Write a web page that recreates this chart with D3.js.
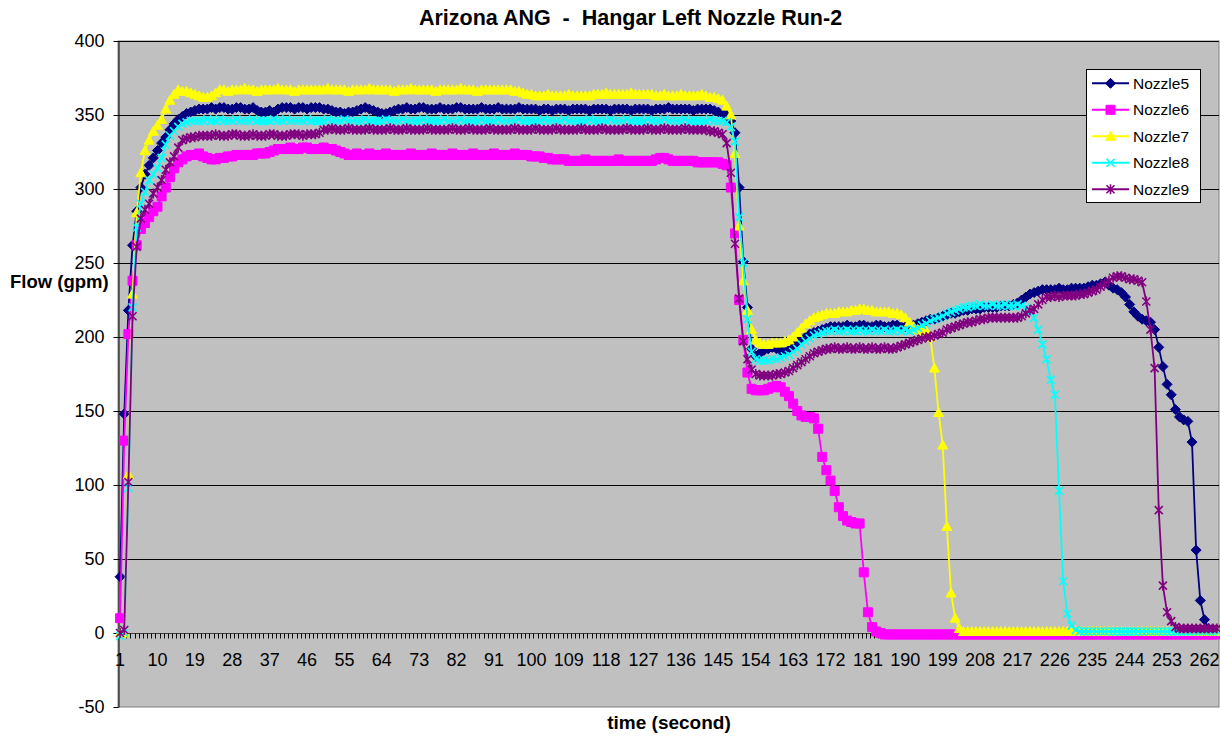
<!DOCTYPE html>
<html>
<head>
<meta charset="utf-8">
<script src="https://cdn.jsdelivr.net/npm/d3@7"></script>
<style>
  body { margin: 0; background: #fff; }
  svg { display: block; }
  text { font-family: Arial, "Liberation Sans", sans-serif; fill: #000; }
</style>
</head>
<body>
<svg id="chart" width="1220" height="736"></svg>
<script>
// Time axis: one category per second of the run
const categories = d3.range(1, 266);
const tickLabels = categories.filter(c => (c - 1) % 9 === 0);
const yTicks = [-50, 0, 50, 100, 150, 200, 250, 300, 350, 400];
const gridValues = [50, 100, 150, 200, 250, 300, 350, 400];

const seriesNames = ["Nozzle5", "Nozzle6", "Nozzle7", "Nozzle8", "Nozzle9"];

// Flow readings (gpm), one value per second
const nozzle5 = [
  38,148,218,262,285,301,310,316,321,326,331,335,340,344,347,349,351,352,353,354,
  354,354,355,354,355,355,354,354,355,355,354,354,355,
  353,352,352,353,352,
  354,355,355,355,354,355,355,354,355,355,355,354,354,353,
  352,352,351,352,352,
  353,354,355,354,353,
  352,351,351,352,353,
  354,354,355,354,354,355,355,354,354,354,355,354,354,354,355,355,354,354,354,354,355,354,354,354,355,354,354,354,354,355,354,354,354,
  354,353,354,354,353,354,354,354,353,354,354,354,354,353,354,354,354,354,353,354,354,354,354,353,354,354,354,354,353,354,354,354,355,354,354,354,354,354,353,354,354,354,354,353,352,351,
  350,346,338,301,251,220,192,
  187,189,191,192,193,192,191,190,191,193,
  196,198,200,202,203,204,205,206,207,207,
  207,207,208,207,207,208,208,207,207,208,
  208,207,207,208,208,207,207,208,208,209,
  210,211,212,212,213,214,215,216,216,217,
  218,218,219,219,219,220,220,220,220,221,
  221,221,222,223,225,227,229,230,231,232,
  232,232,232,233,232,232,233,233,233,233,
  234,235,235,236,237,235,233,232,230,227,
  222,217,214,212,211,210,205,193,180,168,
  161,151,146,144,143,129,56,22,9,3,
  2,2
];

const nozzle6 = [
  10,130,202,238,262,273,277,281,285,288,295,301,308,314,318,320,322,323,323,324,
  322,321,320,320,321,321,322,322,323,323,
  323,323,323,324,324,324,325,326,
  327,327,327,328,327,327,328,328,327,327,327,328,327,327,326,325,
  324,323,323,324,323,323,324,323,323,323,324,323,323,323,
  323,323,324,323,323,323,323,324,323,323,323,323,324,323,323,323,323,324,323,323,323,323,324,323,323,323,323,324,323,323,323,322,
  322,322,321,321,320,320,320,320,319,319,319,319,320,319,319,
  319,319,319,319,319,320,319,319,319,319,319,319,319,319,320,321,321,320,319,319,319,319,319,319,318,318,318,318,318,318,317,
  316,301,270,225,198,176,165,
  164,164,164,165,166,167,166,163,160,155,
  150,147,146,146,145,138,119,110,103,96,
  85,79,76,75,74,74,41,14,4,1,
  0,
  -1,-1,-1,-1,-1,-1,-1,-1,-1,-1,-1,-1,-1,-1,-1,-1,-1,-1,-1,-1,
  -1,-1,-1,-1,-1,-1,-1,-1,-1,-1,-1,-1,-1,-1,-1,-1,-1,-1,-1,-1,
  -1,-1,-1,-1,-1,-1,-1,-1,-1,-1,-1,-1,-1,-1,-1,-1,-1,-1,-1,-1,
  -1,-1,-1,-1,-1,-1,-1,-1,-1,-1,-1,-1,-1,-1,-1,-1,-1,-1,-1,-1,
  -1
];

const nozzle7 = [
  0,0,107,229,284,311,326,333,339,343,347,354,360,364,367,366,366,365,364,363,
  362,362,363,365,
  367,367,366,367,367,367,368,367,367,366,367,367,367,367,368,367,367,367,366,367,367,367,367,367,
  367,367,368,367,367,367,367,366,367,367,367,367,368,367,367,367,367,367,366,367,367,367,368,367,
  367,367,367,367,366,367,367,367,367,367,368,367,367,367,366,367,367,367,367,367,367,367,367,366,366,
  365,364,364,363,363,363,364,363,363,363,363,364,363,363,363,363,363,364,364,364,365,364,364,364,364,364,365,364,364,364,364,364,363,363,364,363,363,363,364,363,363,363,363,364,363,362,362,361,360,
  356,350,324,275,238,218,205,
  198,196,195,195,196,196,196,197,198,200,
  203,206,209,211,213,214,215,216,216,216,
  217,217,217,218,218,219,219,218,218,217,
  217,217,217,216,216,215,213,210,207,205,
  204,204,200,179,149,127,72,27,10,3,
  1,1,1,1,1,1,1,1,1,1,1,1,1,1,1,1,1,1,1,1,
  1,1,1,1,1,1,1,1,1,1,1,1,1,1,1,1,1,1,1,1,
  1,1,1,1,1,1,1,1,1,1,1,1,1,1,1,1,1,1,1,1,
  1,1
];

const nozzle8 = [
  -2,0,98,220,274,290,298,306,310,314,321,330,336,339,342,344,345,346,346,346,
  346,347,346,346,347,346,346,346,347,346,
  346,346,347,346,346,346,346,347,346,346,
  347,346,346,346,346,347,346,346,346,346,
  347,346,346,346,347,346,346,346,346,347,
  346,346,346,346,347,346,346,346,347,346,
  346,346,346,347,346,346,346,346,347,346,
  346,346,347,346,346,346,346,347,346,346,
  346,347,346,346,346,346,347,346,346,346,
  346,346,347,346,346,346,346,347,346,346,
  346,346,346,347,346,346,346,346,347,346,
  346,346,347,346,346,346,346,347,346,346,
  346,347,346,346,346,346,347,346,346,346,
  346,346,347,346,346,346,
  345,342,332,281,250,212,190,
  185,184,184,184,185,185,186,187,188,190,
  192,195,197,199,201,202,203,204,204,205,
  204,204,205,204,204,205,204,204,205,204,
  204,205,204,204,205,204,205,204,205,206,
  208,209,211,212,213,214,216,217,218,219,
  220,220,221,221,222,221,221,222,221,221,
  222,221,221,222,221,220,217,213,205,195,
  185,171,161,96,35,13,5,2,1,1,
  1,1,1,1,1,1,1,1,1,1,1,1,1,1,1,1,
  1,1,1,1,1,1,1,1,1,1,1,1,1,1,1,1
];

const nozzle9 = [
  0,2,102,214,261,280,286,290,297,301,306,313,318,322,328,333,334,335,335,336,
  336,336,336,337,336,336,336,337,337,336,336,336,337,336,336,336,337,337,336,336,336,337,337,337,336,337,337,337,338,
  340,340,341,340,340,340,341,340,340,340,
  340,341,340,340,340,340,341,340,340,340,
  341,340,340,340,340,341,340,340,340,340,
  340,341,340,340,340,341,340,340,340,340,
  341,340,340,340,340,340,341,340,340,340,
  340,341,340,340,340,340,341,340,340,340,
  340,340,341,340,340,340,340,341,340,340,
  340,340,340,341,340,340,340,340,341,340,
  340,340,341,340,340,340,340,341,340,340,
  340,340,340,339,339,338,337,
  331,311,263,226,197,185,178,
  175,174,174,174,174,175,175,176,177,179,
  181,183,185,187,189,190,191,192,192,193,
  192,192,193,192,192,193,192,192,193,192,
  192,193,192,192,193,194,195,196,197,198,
  199,200,200,201,202,203,205,206,207,208,
  209,210,210,211,212,212,213,213,213,213,
  213,213,213,213,214,216,218,219,222,225,
  227,227,228,227,228,228,228,228,229,229,
  230,231,232,234,236,238,240,241,241,240,
  239,239,238,237,224,205,179,83,32,14,
  8,4,3,3,3,3,3,3,3,3,
  3,3
];

const seriesValues = [nozzle5, nozzle6, nozzle7, nozzle8, nozzle9];
const seriesColors = ["#000080", "#FF00FF", "#FFFF00", "#00FFFF", "#800080"];
const markerKinds = ["diamond", "square", "triangle", "cross", "star"];

const svg = d3.select("#chart");
const area = { left: 118, right: 1219, top: 41, bottom: 707 };

const x = d3.scaleBand().domain(categories).range([area.left, area.right]).padding(0);
const y = d3.scaleLinear().domain([-50, 400]).range([area.bottom, area.top]);
const cx = c => x(c) + x.bandwidth() / 2;

// Plot area
svg.append("rect")
  .attr("x", area.left).attr("y", area.top)
  .attr("width", area.right - area.left).attr("height", area.bottom - area.top)
  .attr("fill", "#C0C0C0").attr("stroke", "#808080").attr("stroke-width", 1);

// Horizontal gridlines
svg.append("g").selectAll("line").data(gridValues).join("line")
  .attr("x1", area.left).attr("x2", area.right)
  .attr("y1", d => Math.round(y(d)) + 0.5).attr("y2", d => Math.round(y(d)) + 0.5)
  .attr("stroke", "#000").attr("stroke-width", 1);

// Value axis (plain hyphen for negatives)
const yAxisG = svg.append("g")
  .attr("transform", `translate(${area.left + 0.5},0)`)
  .call(d3.axisLeft(y).tickValues(yTicks).tickFormat(d => String(d))
    .tickSize(5).tickPadding(9).tickSizeOuter(0));
yAxisG.select(".domain").attr("stroke", "#000");
yAxisG.selectAll(".tick line").attr("stroke", "#000");
yAxisG.selectAll("text").attr("font-size", 18).attr("fill", "#000")
  .style("font-family", "Arial, 'Liberation Sans', sans-serif");

// Category axis crossing at zero
const y0 = Math.round(y(0)) + 0.5;
svg.append("line")
  .attr("x1", area.left).attr("x2", area.right).attr("y1", y0).attr("y2", y0)
  .attr("stroke", "#404040").attr("stroke-width", 1);

// One tick mark per category boundary
const boundaries = categories.map(c => x(c)).concat([x(categories[categories.length - 1]) + x.bandwidth()]);
svg.append("g").selectAll("line").data(boundaries).join("line")
  .attr("x1", d => Math.round(d) + 0.5).attr("x2", d => Math.round(d) + 0.5)
  .attr("y1", y0).attr("y2", y0 + 5)
  .attr("stroke", "#000").attr("stroke-width", 1);

const xAxisG = svg.append("g")
  .attr("transform", `translate(0,${y0})`)
  .call(d3.axisBottom(x).tickValues(tickLabels).tickSize(0).tickPadding(20));
xAxisG.select(".domain").remove();
xAxisG.selectAll("text").attr("font-size", 18).attr("fill", "#000")
  .style("font-family", "Arial, 'Liberation Sans', sans-serif");

// Marker shapes
function markerPath(kind) {
  switch (kind) {
    case "diamond": return "M0,-5L5,0L0,5L-5,0Z";
    case "square": return "M-4.5,-4.5H4.5V4.5H-4.5Z";
    case "triangle": return "M0,-5L5,4L-5,4Z";
    case "cross": return "M-4,-4L4,4M-4,4L4,-4";
    case "star": return "M-4,-4L4,4M-4,4L4,-4M0,-5V5";
  }
}
function drawMarker(g, kind, color) {
  const filled = kind === "diamond" || kind === "square" || kind === "triangle";
  g.append("path").attr("d", markerPath(kind))
    .attr("fill", filled ? color : "none")
    .attr("stroke", color)
    .attr("stroke-width", filled ? 1 : 1.6);
}

const line = d3.line().x((d, i) => cx(categories[i])).y(d => y(d));

seriesValues.forEach((vals, s) => {
  const g = svg.append("g").attr("class", "series");
  g.append("path").datum(vals).attr("d", line)
    .attr("fill", "none").attr("stroke", seriesColors[s]).attr("stroke-width", 1.8)
    .attr("stroke-linejoin", "round");
  g.selectAll("g.m").data(vals).join("g").attr("class", "m")
    .attr("transform", (d, i) => `translate(${cx(categories[i])},${y(d)})`)
    .each(function () { drawMarker(d3.select(this), markerKinds[s], seriesColors[s]); });
});

// Title and axis titles
svg.append("text").attr("x", 630.5).attr("y", 25).attr("text-anchor", "middle")
  .attr("font-size", 21.5).attr("font-weight", "bold")
  .style("white-space", "pre")
  .text("Arizona ANG  -  Hangar Left Nozzle Run-2");
svg.append("text").attr("x", 10).attr("y", 288)
  .attr("font-size", 18.5).attr("font-weight", "bold").text("Flow (gpm)");
svg.append("text").attr("x", 669).attr("y", 729).attr("text-anchor", "middle")
  .attr("font-size", 19).attr("font-weight", "bold").text("time (second)");

// Legend
const legend = svg.append("g");
legend.append("rect").attr("x", 1086.5).attr("y", 69.5).attr("width", 114).attr("height", 133)
  .attr("fill", "#fff").attr("stroke", "#000").attr("stroke-width", 1);
seriesNames.forEach((name, s) => {
  const ly = 83.3 + s * 26.5;
  const row = legend.append("g").attr("transform", `translate(0,${ly})`);
  row.append("line").attr("x1", 1092).attr("x2", 1129).attr("y1", 0).attr("y2", 0)
    .attr("stroke", seriesColors[s]).attr("stroke-width", 2);
  const m = row.append("g").attr("transform", "translate(1110.5,0)");
  drawMarker(m, markerKinds[s], seriesColors[s]);
  row.append("text").attr("x", 1133).attr("y", 5.5).attr("font-size", 15.5).text(name);
});
</script>
</body>
</html>
